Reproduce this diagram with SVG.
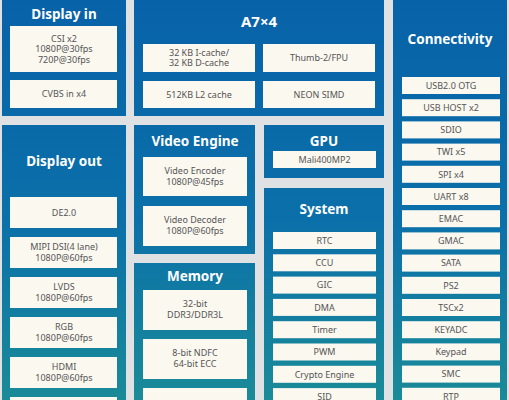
<svg xmlns="http://www.w3.org/2000/svg" width="509" height="400" viewBox="0 0 509 400">
<defs>
<linearGradient id="pg" gradientUnits="userSpaceOnUse" x1="0" y1="0" x2="0" y2="400">
<stop offset="0" stop-color="#0862a8"/>
<stop offset="0.55" stop-color="#0b70a9"/>
<stop offset="1" stop-color="#1a8b98"/>
</linearGradient>
<style>
.panel{fill:url(#pg)}
.box{fill:#fbf8f0}
.title{font-family:"Noto Sans","Open Sans",sans-serif;font-weight:bold;font-size:13.5px;fill:#ffffff;text-anchor:middle}
.big{font-size:15px}
.t{font-family:"Noto Sans","Open Sans",sans-serif;font-size:9px;fill:#555555;text-anchor:middle}
</style>
</defs>
<rect width="509" height="400" fill="#dfe1e3"/>

<g id="display-in">
<rect class="panel" x="2" y="0" width="124" height="116"/>
<text class="title" x="64" y="19">Display in</text>
<rect class="box" x="10" y="26" width="107" height="46"/>
<text class="t" x="64" y="41.5">CSI x2</text>
<text class="t" x="64" y="52">1080P@30fps</text>
<text class="t" x="64" y="62.5">720P@30fps</text>
<rect class="box" x="10" y="80" width="107" height="28"/>
<text class="t" x="64" y="97">CVBS in x4</text>
</g>

<g id="a7x4">
<rect class="panel" x="134" y="0" width="250" height="116"/>
<text class="title big" x="259" y="27">A7×4</text>
<rect class="box" x="143" y="44" width="112" height="28"/>
<text class="t" x="199" y="55.5">32 KB I-cache/</text>
<text class="t" x="199" y="66">32 KB D-cache</text>
<rect class="box" x="263" y="44" width="112" height="28"/>
<text class="t" x="319" y="61">Thumb-2/FPU</text>
<rect class="box" x="143" y="81" width="112" height="27"/>
<text class="t" x="199" y="97.5">512KB L2 cache</text>
<rect class="box" x="263" y="81" width="112" height="27"/>
<text class="t" x="319" y="97.5">NEON SIMD</text>
</g>

<g id="connectivity">
<rect class="panel" x="393" y="0" width="114" height="400"/>
<text class="title" x="450" y="44">Connectivity</text>
<rect class="box" x="402" y="77" width="98" height="17"/><text class="t" x="451" y="88.7">USB2.0 OTG</text>
<rect class="box" x="402" y="99.2" width="98" height="17"/><text class="t" x="451" y="110.9">USB HOST x2</text>
<rect class="box" x="402" y="121.4" width="98" height="17"/><text class="t" x="451" y="133.1">SDIO</text>
<rect class="box" x="402" y="143.6" width="98" height="17"/><text class="t" x="451" y="155.3">TWI x5</text>
<rect class="box" x="402" y="165.8" width="98" height="17"/><text class="t" x="451" y="177.5">SPI x4</text>
<rect class="box" x="402" y="188" width="98" height="17"/><text class="t" x="451" y="199.7">UART x8</text>
<rect class="box" x="402" y="210.2" width="98" height="17"/><text class="t" x="451" y="221.9">EMAC</text>
<rect class="box" x="402" y="232.4" width="98" height="17"/><text class="t" x="451" y="244.1">GMAC</text>
<rect class="box" x="402" y="254.6" width="98" height="17"/><text class="t" x="451" y="266.3">SATA</text>
<rect class="box" x="402" y="276.8" width="98" height="17"/><text class="t" x="451" y="288.5">PS2</text>
<rect class="box" x="402" y="299" width="98" height="17"/><text class="t" x="451" y="310.7">TSCx2</text>
<rect class="box" x="402" y="321.2" width="98" height="17"/><text class="t" x="451" y="332.9">KEYADC</text>
<rect class="box" x="402" y="343.4" width="98" height="17"/><text class="t" x="451" y="355.1">Keypad</text>
<rect class="box" x="402" y="365.6" width="98" height="17"/><text class="t" x="451" y="377.3">SMC</text>
<rect class="box" x="402" y="387.8" width="98" height="17"/><text class="t" x="451" y="399.5">RTP</text>
</g>

<g id="display-out">
<rect class="panel" x="2" y="125" width="124" height="280"/>
<text class="title" x="64" y="166">Display out</text>
<rect class="box" x="10" y="197" width="107" height="31"/>
<text class="t" x="64" y="215.5">DE2.0</text>
<rect class="box" x="10" y="237" width="107" height="31"/>
<text class="t" x="64" y="250">MIPI DSI(4 lane)</text>
<text class="t" x="64" y="261">1080P@60fps</text>
<rect class="box" x="10" y="277" width="107" height="31"/>
<text class="t" x="64" y="290">LVDS</text>
<text class="t" x="64" y="301">1080P@60fps</text>
<rect class="box" x="10" y="317" width="107" height="31"/>
<text class="t" x="64" y="330">RGB</text>
<text class="t" x="64" y="341">1080P@60fps</text>
<rect class="box" x="10" y="357" width="107" height="31"/>
<text class="t" x="64" y="370">HDMI</text>
<text class="t" x="64" y="381">1080P@60fps</text>
<rect class="box" x="10" y="397" width="107" height="31"/>
</g>

<g id="video-engine">
<rect class="panel" x="134" y="125" width="121" height="129"/>
<text class="title" x="195" y="146">Video Engine</text>
<rect class="box" x="143" y="157" width="104" height="39"/>
<text class="t" x="195" y="174">Video Encoder</text>
<text class="t" x="195" y="185">1080P@45fps</text>
<rect class="box" x="143" y="206" width="104" height="40"/>
<text class="t" x="195" y="223">Video Decoder</text>
<text class="t" x="195" y="234">1080P@60fps</text>
</g>

<g id="memory">
<rect class="panel" x="134" y="263" width="121" height="140"/>
<text class="title" x="195" y="281">Memory</text>
<rect class="box" x="143" y="290" width="104" height="40"/>
<text class="t" x="195" y="307">32-bit</text>
<text class="t" x="195" y="318">DDR3/DDR3L</text>
<rect class="box" x="143" y="339" width="104" height="40"/>
<text class="t" x="195" y="356">8-bit NDFC</text>
<text class="t" x="195" y="367">64-bit ECC</text>
<rect class="box" x="143" y="388" width="104" height="40"/>
</g>

<g id="gpu">
<rect class="panel" x="264" y="125" width="120" height="53"/>
<text class="title" x="324" y="146">GPU</text>
<rect class="box" x="273" y="151" width="103" height="17"/>
<text class="t" x="324.5" y="162.7">Mali400MP2</text>
</g>

<g id="system">
<rect class="panel" x="264" y="188" width="120" height="215"/>
<text class="title" x="324" y="214">System</text>
<rect class="box" x="273" y="232" width="103" height="17"/><text class="t" x="324.5" y="243.7">RTC</text>
<rect class="box" x="273" y="254.3" width="103" height="17"/><text class="t" x="324.5" y="266">CCU</text>
<rect class="box" x="273" y="276.6" width="103" height="17"/><text class="t" x="324.5" y="288.3">GIC</text>
<rect class="box" x="273" y="298.9" width="103" height="17"/><text class="t" x="324.5" y="310.6">DMA</text>
<rect class="box" x="273" y="321.2" width="103" height="17"/><text class="t" x="324.5" y="332.9">Timer</text>
<rect class="box" x="273" y="343.5" width="103" height="17"/><text class="t" x="324.5" y="355.2">PWM</text>
<rect class="box" x="273" y="365.8" width="103" height="17"/><text class="t" x="324.5" y="377.5">Crypto Engine</text>
<rect class="box" x="273" y="388.1" width="103" height="17"/><text class="t" x="324.5" y="399.8">SID</text>
</g>

<g id="connectors"></g>
</svg>
